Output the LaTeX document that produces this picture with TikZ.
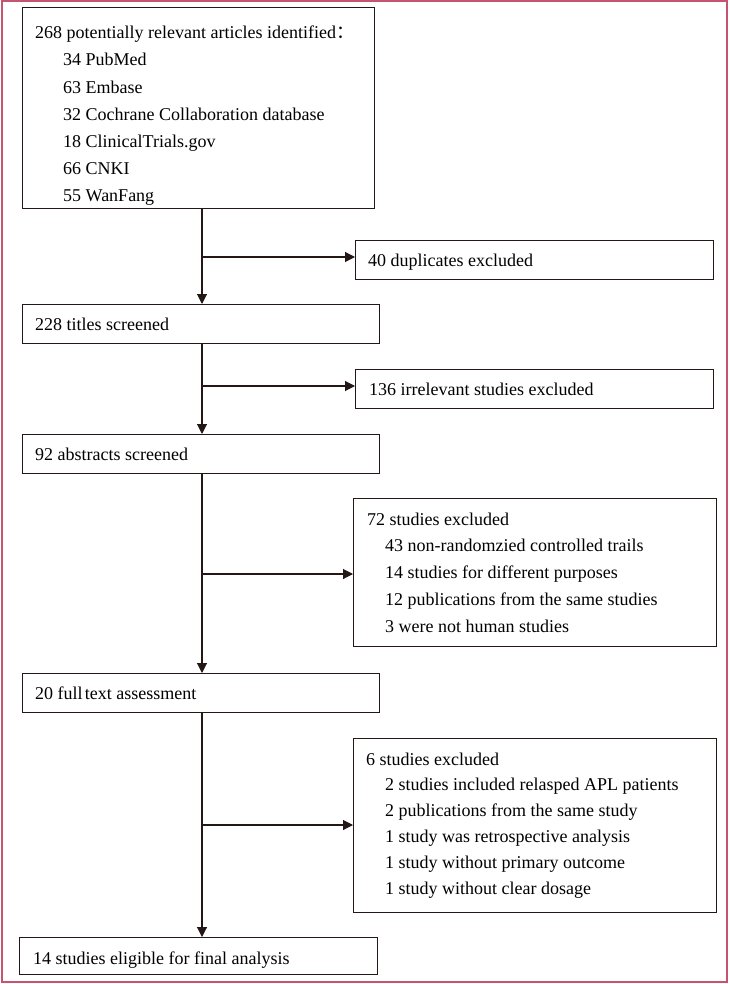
\documentclass[tikz,border=0pt]{standalone}
\usepackage{fontspec}
\setmainfont{Liberation Serif}
\newfontfamily\cjk{Noto Sans CJK SC}
\usetikzlibrary{arrows.meta}
\definecolor{frame}{RGB}{196,84,112}
\definecolor{ink}{RGB}{35,24,21}
\tikzset{
  box/.style={draw=ink, line width=1.1pt, anchor=north west, inner sep=0pt},
  txt/.style={anchor=base west, inner sep=0pt, text=black, font=\fontsize{18pt}{20pt}\selectfont},
  arr/.style={draw=ink, line width=1.1pt, -{Triangle[length=10pt,width=10pt]}}
}
\newcommand{\boxat}[5]{% name, x1, y1, x2, y2
  \node[box, minimum width=#4pt-#2pt, minimum height=#5pt-#3pt] (#1) at (#2,#3) {};}
\begin{document}
\begin{tikzpicture}[x=1pt,y=-1pt]
\useasboundingbox (0,0) rectangle (729,984);
\draw[frame, line width=2pt] (1.5,1.5) rectangle (727,982);
% boxes
\boxat{b1}{22}{7}{374}{208}
\boxat{dup}{355}{240}{713}{279}
\boxat{tit}{22}{304}{379}{343}
\boxat{irr}{355}{369}{713}{408}
\boxat{abs}{22}{434}{379}{473}
\boxat{exa}{353}{498}{716}{646}
\boxat{ful}{22}{673}{379}{712}
\boxat{exb}{353}{738}{716}{912}
\boxat{fin}{19}{937}{377}{974}
% texts
\node[txt] (t1a) at (35,39) {268 potentially relevant articles identified{\cjk ：}};
\node[txt] (t1b) at (63,66) {34 PubMed};
\node[txt] (t1c) at (63,93.5) {63 Embase};
\node[txt] (t1d) at (63,120.5) {32 Cochrane Collaboration database};
\node[txt] (t1e) at (63,148) {18 ClinicalTrials.gov};
\node[txt] (t1f) at (63,175) {66 CNKI};
\node[txt] (t1g) at (63,202) {55 WanFang};
\node[txt] (tdup) at (368,266) {40 duplicates excluded};
\node[txt] (ttit) at (35,330) {228 titles screened};
\node[txt] (tirr) at (369,395) {136 irrelevant studies excluded};
\node[txt] (tabs) at (35,460) {92 abstracts screened};
\node[txt] (tea1) at (367,525) {72 studies excluded};
\node[txt] (tea2) at (385,551.75) {43 non-randomzied controlled trails};
\node[txt] (tea3) at (385,578.5) {14 studies for different purposes};
\node[txt] (tea4) at (385,605.25) {12 publications from the same studies};
\node[txt] (tea5) at (385,632) {3 were not human studies};
\node[txt] (tful) at (35,699) {20 full\hspace{0.12em}text assessment};
\node[txt] (teb1) at (366,765) {6 studies excluded};
\node[txt] (teb2) at (385,790.8) {2 studies included relasped APL patients};
\node[txt] (teb3) at (385,816.6) {2 publications from the same study};
\node[txt] (teb4) at (385,842.4) {1 study was retrospective analysis};
\node[txt] (teb5) at (385,868.2) {1 study without primary outcome};
\node[txt] (teb6) at (385,894) {1 study without clear dosage};
\node[txt] (tfin) at (33,964) {14 studies eligible for final analysis};
% junctions
\coordinate (j1) at (202,257);
\coordinate (j2) at (202,386);
\coordinate (j3) at (202,574);
\coordinate (j4) at (202,825);
% main spine
\draw[arr] (b1.south -| j1) -- (tit.north -| j1);
\draw[arr] (tit.south -| j2) -- (abs.north -| j2);
\draw[arr] (abs.south -| j3) -- (ful.north -| j3);
\draw[arr] (ful.south -| j4) -- (fin.north -| j4);
% branches
\draw[arr] (j1) -- (j1 -| dup.west);
\draw[arr] (j2) -- (j2 -| irr.west);
\draw[arr] (j3) -- (j3 -| exa.west);
\draw[arr] (j4) -- (j4 -| exb.west);
\end{tikzpicture}
\end{document}
